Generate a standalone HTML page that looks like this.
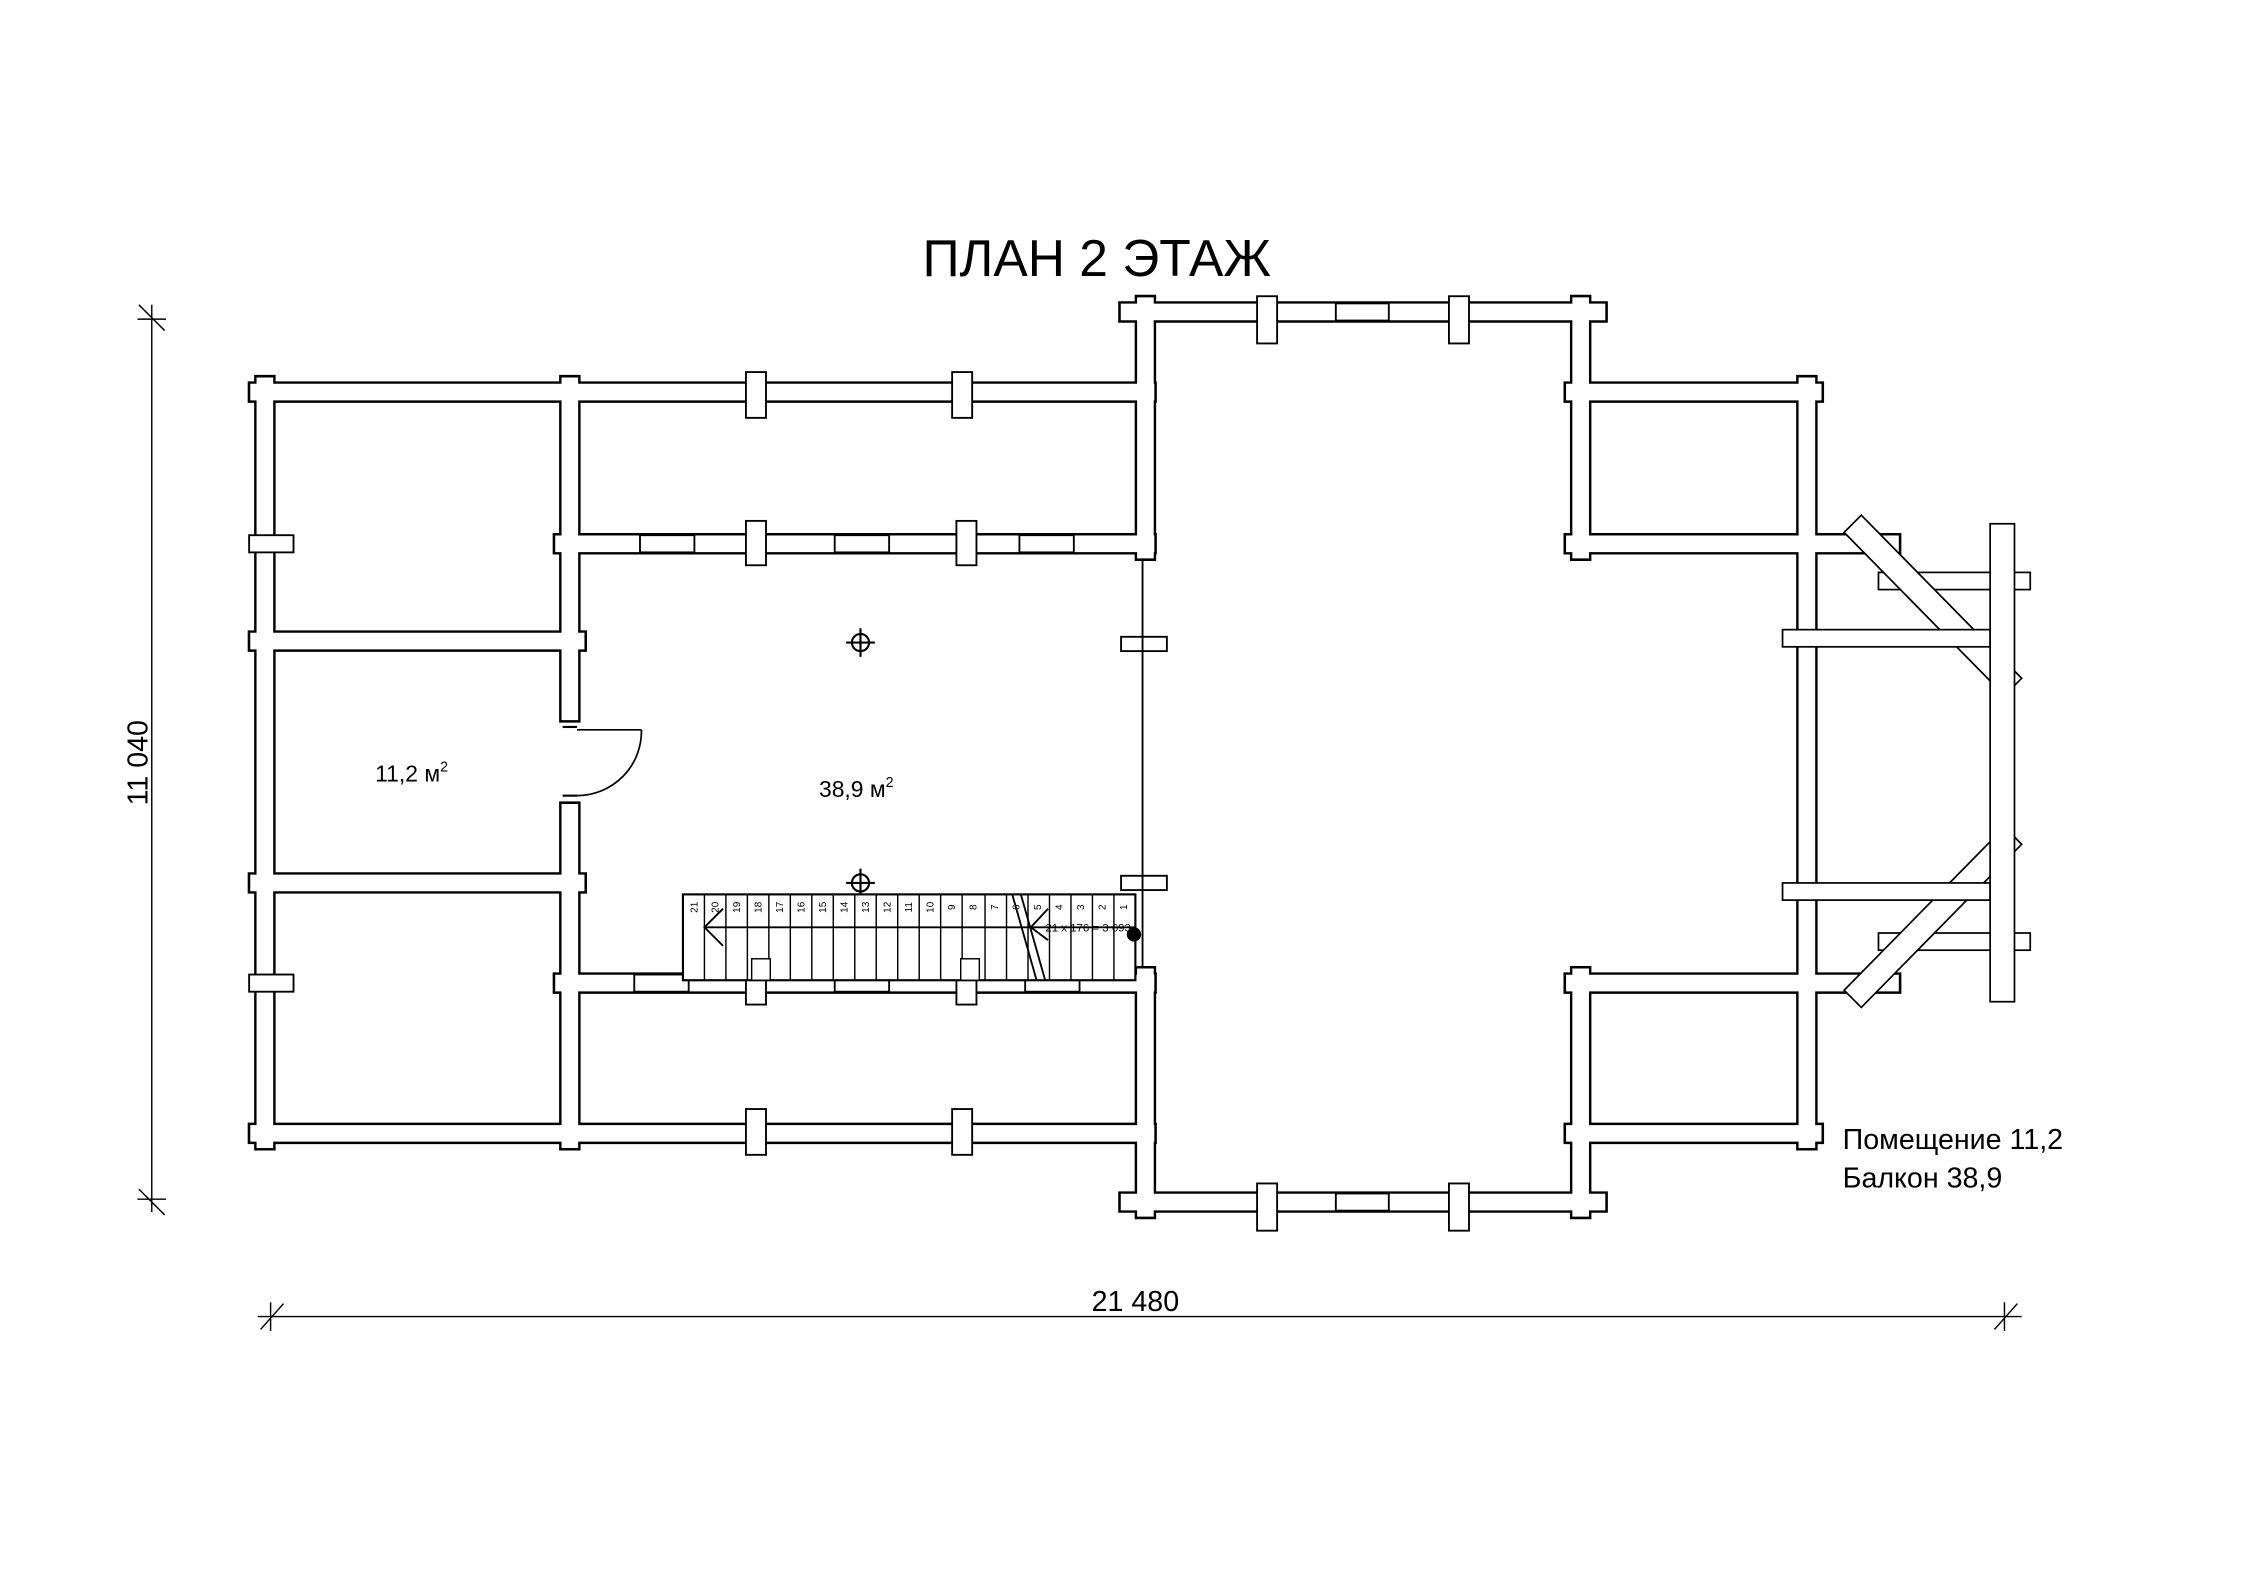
<!DOCTYPE html>
<html><head><meta charset="utf-8"><style>html,body{margin:0;padding:0;background:#fff}svg{display:block}</style></head>
<body>
<svg width="2245" height="1587" viewBox="0 0 1568 1109" preserveAspectRatio="none" xmlns="http://www.w3.org/2000/svg" font-family="Liberation Sans, DejaVu Sans, sans-serif">
<rect width="1568" height="1109" fill="#fff"/>
<text x="766" y="193" font-size="36" text-anchor="middle">ПЛАН 2 ЭТАЖ</text>
<g fill="none" stroke-linecap="butt">
<path stroke="#000" stroke-width="15" d="M173 274H808 M185 262V804 M398 262V505 M398 560V804 M173 792H808 M386 380H808 M386 687H808 M173 448H410 M173 617H410
M781 218H1123 M800 206V392 M800 675V852 M781 840H1123 M1104 206V392 M1104 675V852
M1092 274H1274 M1262 262V804 M1092 792H1274 M1092 380H1328 M1092 687H1328"/>
<path stroke="#fff" stroke-width="11.6" d="M174.8 274H806.2 M185 263.8V802.2 M398 263.8V503.2 M398 561.8V802.2 M174.8 792H806.2 M387.8 380H806.2 M387.8 687H806.2 M174.8 448H408.2 M174.8 617H408.2
M782.8 218H1121.2 M800 207.8V390.2 M800 676.8V850.2 M782.8 840H1121.2 M1104 207.8V390.2 M1104 676.8V850.2
M1093.8 274H1272.2 M1262 263.8V802.2 M1093.8 792H1272.2 M1093.8 380H1326.2 M1093.8 687H1326.2"/>
</g>
<g fill="#fff" stroke="#000" stroke-width="1.3">
<rect x="174" y="374" width="31" height="12"/><rect x="174" y="681" width="31" height="12"/>
<rect x="521" y="260" width="14" height="32"/><rect x="665" y="260" width="14" height="32"/>
<rect x="521" y="775" width="14" height="32"/><rect x="665" y="775" width="14" height="32"/>
<rect x="521" y="364" width="14" height="31"/><rect x="668" y="364" width="14" height="31"/>
<rect x="521" y="672" width="14" height="30"/><rect x="668" y="672" width="14" height="30"/>
<rect x="447" y="374" width="38" height="12"/><rect x="583" y="374" width="38" height="12"/><rect x="712" y="374" width="38" height="12"/>
<rect x="443" y="681" width="38" height="12"/><rect x="583" y="681" width="38" height="12"/><rect x="716" y="681" width="38" height="12"/>
<rect x="878" y="207" width="14" height="33"/><rect x="1012" y="207" width="14" height="33"/>
<rect x="878" y="827" width="14" height="33"/><rect x="1012" y="827" width="14" height="33"/>
<rect x="933" y="212" width="37" height="12"/><rect x="933" y="834" width="37" height="12"/>
<rect x="783" y="445" width="32" height="10"/><rect x="783" y="612" width="32" height="10"/>
</g>
<line x1="798" y1="392" x2="798" y2="675" stroke="#000" stroke-width="1.3"/>
<!-- door -->
<line x1="393" y1="508" x2="403" y2="508" stroke="#000" stroke-width="1.5"/>
<line x1="403" y1="510" x2="448" y2="510" stroke="#000" stroke-width="1.2"/>
<path d="M448 510 A45 45 0 0 1 403 556" fill="none" stroke="#000" stroke-width="1.2"/>
<line x1="393" y1="556" x2="403" y2="556" stroke="#000" stroke-width="1.5"/>
<!-- columns -->
<g stroke="#000" fill="none" stroke-width="1.5">
<circle cx="601" cy="449" r="6"/><path d="M591 449H611M601 439V459"/>
<circle cx="601" cy="617" r="6"/><path d="M591 617H611M601 607V627"/>
</g>
<!-- stair -->
<rect x="477" y="625" width="316" height="60" fill="#fff" stroke="#000" stroke-width="1.5"/>
<g stroke="#000" stroke-width="1" fill="none">
<path d="M492 625V685M507 625V685M522 625V685M537 625V685M552 625V685M567 625V685M582 625V685M597 625V685M612 625V685M627 625V685M642 625V685M657 625V685M672 625V685M688 625V685M703 625V685M718 625V685M733 625V685M748 625V685M763 625V685M778 625V685"/>
<path d="M492 648H793M505 635L492 648L505 661" stroke-width="1.3"/>
<path d="M707 625L724 685M713 625L730 685M732 635L720 648L732 657" stroke-width="1.3"/>
<rect x="525" y="670" width="13" height="15" fill="#fff"/><rect x="671" y="670" width="13" height="15" fill="#fff"/>
</g>
<g font-size="7" text-anchor="middle">
<text transform="translate(487,634) rotate(-90)">21</text>
<text transform="translate(502,634) rotate(-90)">20</text>
<text transform="translate(517,634) rotate(-90)">19</text>
<text transform="translate(532,634) rotate(-90)">18</text>
<text transform="translate(547,634) rotate(-90)">17</text>
<text transform="translate(562,634) rotate(-90)">16</text>
<text transform="translate(577,634) rotate(-90)">15</text>
<text transform="translate(592,634) rotate(-90)">14</text>
<text transform="translate(607,634) rotate(-90)">13</text>
<text transform="translate(622,634) rotate(-90)">12</text>
<text transform="translate(637,634) rotate(-90)">11</text>
<text transform="translate(652,634) rotate(-90)">10</text>
<text transform="translate(667,634) rotate(-90)">9</text>
<text transform="translate(682,634) rotate(-90)">8</text>
<text transform="translate(697,634) rotate(-90)">7</text>
<text transform="translate(712,634) rotate(-90)">6</text>
<text transform="translate(727,634) rotate(-90)">5</text>
<text transform="translate(742,634) rotate(-90)">4</text>
<text transform="translate(757,634) rotate(-90)">3</text>
<text transform="translate(772,634) rotate(-90)">2</text>
<text transform="translate(787,634) rotate(-90)">1</text>
</g>
<text x="760" y="651" font-size="8" text-anchor="middle">21 x 176 = 3 693</text>
<circle cx="792" cy="653" r="5" fill="#000"/>
<!-- balcony -->
<g fill="#fff" stroke="#000" stroke-width="1.2">
<rect x="1312" y="400" width="106" height="12"/><rect x="1312" y="652" width="106" height="12"/>
<path d="M1288 372L1300 360L1412 474L1400 486Z"/>
<path d="M1288 692L1300 704L1412 590L1400 578Z"/>
<rect x="1245" y="440" width="145" height="12"/><rect x="1245" y="617" width="145" height="12"/>
<rect x="1390" y="366" width="17" height="334"/>
</g>
<!-- dims -->
<g stroke="#000" stroke-width="1">
<path d="M106 213V847M96 223H116M96 838H116M97 213L115 231M97 831L115 849"/>
<path d="M180 920H1412M189 910V930M1400 910V930M182 929L198 911M1393 929L1409 911"/>
</g>
<text transform="translate(103,533) rotate(-90)" font-size="20" text-anchor="middle">11 040</text>
<text x="793" y="916" font-size="20" text-anchor="middle">21 480</text>
<text x="262" y="546" font-size="16">11,2 м<tspan font-size="10" dy="-7">2</tspan></text>
<text x="572" y="557" font-size="16">38,9 м<tspan font-size="10" dy="-7">2</tspan></text>
<text x="1287" y="803" font-size="20">Помещение 11,2</text>
<text x="1287" y="830" font-size="20">Балкон 38,9</text>
</svg>
</body></html>
